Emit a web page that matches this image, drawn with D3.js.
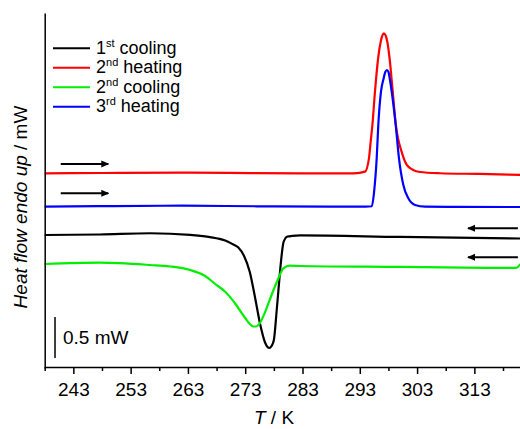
<!DOCTYPE html>
<html>
<head>
<meta charset="utf-8">
<script src="https://cdn.jsdelivr.net/npm/d3@7"></script>
<style>
  body { margin: 0; background: #fff; }
  svg { display: block; font-family: Arial, 'Liberation Sans', sans-serif; }
</style>
</head>
<body>
<script>
// temperature (K) and heat flow (mW, offset per trace)
const cool1T = [238, 247.65, 256.4, 263.4, 268.0, 269.5, 270.9, 271.8, 272.8, 273.8, 274.7, 275.6, 276.5, 276.9, 277.2, 277.6, 278.0, 278.5, 278.8, 279.2, 279.7, 280.4, 281.2, 282.6, 300, 321];
const cool1Flow = [1.622, 1.628, 1.643, 1.624, 1.582, 1.555, 1.506, 1.47, 1.366, 1.171, 0.866, 0.537, 0.305, 0.256, 0.244, 0.268, 0.341, 0.707, 0.951, 1.268, 1.537, 1.604, 1.61, 1.616, 1.598, 1.579];

const heat2T = [238, 248, 262, 274, 286, 292, 293.9, 294.6, 294.9, 295.2, 295.65, 296.2, 296.65, 296.95, 297.2, 297.5, 297.8, 298.2, 298.75, 299.3, 300.3, 301.2, 302.3, 303.5, 307, 314, 321];
const heat2Flow = [2.374, 2.378, 2.382, 2.376, 2.372, 2.374, 2.394, 2.557, 2.76, 2.963, 3.37, 3.777, 3.979, 4.055, 4.082, 4.055, 3.979, 3.777, 3.37, 2.963, 2.638, 2.476, 2.415, 2.39, 2.375, 2.366, 2.354];

const cool2T = [238, 247.65, 256.4, 259.9, 263.4, 265.7, 268.0, 269.5, 270.3, 271.2, 273.0, 273.8, 274.4, 274.9, 275.3, 276.5, 277.6, 278.8, 279.65, 280.8, 282.6, 300, 315, 320.3, 321];
const cool2Flow = [1.268, 1.284, 1.256, 1.238, 1.195, 1.134, 1.012, 0.93, 0.87, 0.79, 0.61, 0.537, 0.506, 0.506, 0.524, 0.687, 0.89, 1.094, 1.216, 1.248, 1.244, 1.232, 1.222, 1.22, 1.265];

const heat3T = [238, 250, 262, 275, 288, 294, 295.1, 295.5, 295.95, 296.23, 296.7, 297.17, 297.45, 297.75, 298.0, 298.22, 298.57, 299.27, 299.84, 300.6, 301.47, 302.64, 304.4, 310, 321];
const heat3Flow = [1.967, 1.975, 1.979, 1.972, 1.968, 1.967, 1.972, 2.15, 2.557, 2.963, 3.37, 3.533, 3.61, 3.634, 3.61, 3.533, 3.37, 2.963, 2.557, 2.232, 2.07, 1.988, 1.967, 1.965, 1.963];

const legendNums = ['1', '2', '2', '3'];
const legendSups = ['st', 'nd', 'nd', 'rd'];
const legendWords = ['cooling', 'heating', 'cooling', 'heating'];
const seriesColors = ['#000000', '#ff0000', '#00ee00', '#0000ff'];

const majorTicks = [243, 253, 263, 273, 283, 293, 303, 313];
const minorTicks = [238, 248, 258, 268, 278, 288, 298, 308, 318];

// arrows: [T start, T end, flow]
const arrowsData = [[240.8, 249.1, 2.488], [240.8, 249.1, 2.13], [320.6, 311.9, 1.704], [320.6, 311.9, 1.35]];

const width = 520, height = 429;

const x = d3.scaleLinear().domain([238, 321]).range([44.7, 520.2]);
const y = d3.scaleLinear().domain([0, 4.33]).range([368, 12.9]);

const svg = d3.select('body').append('svg')
    .attr('width', width)
    .attr('height', height);

svg.append('defs').append('marker')
    .attr('id', 'head')
    .attr('markerUnits', 'userSpaceOnUse')
    .attr('viewBox', '0 -4 8 8')
    .attr('refX', 7)
    .attr('refY', 0)
    .attr('markerWidth', 8)
    .attr('markerHeight', 8)
    .attr('orient', 'auto')
    .append('path')
    .attr('d', 'M0,-3.5L8,0L0,3.5Z')
    .attr('fill', '#000');

//curves
const line = d3.line()
    .x(d => x(d[0]))
    .y(d => y(d[1]))
    .curve(d3.curveMonotoneX);

const series = [
    d3.zip(cool1T, cool1Flow),
    d3.zip(heat2T, heat2Flow),
    d3.zip(cool2T, cool2Flow),
    d3.zip(heat3T, heat3Flow)
];

svg.append('g')
    .selectAll('path')
    .data(series)
    .enter()
    .append('path')
    .attr('d', line)
    .attr('fill', 'none')
    .attr('stroke', (d, i) => seriesColors[i])
    .attr('stroke-width', 2.2)
    .attr('stroke-linejoin', 'round');

//axes
const xAxis = d3.axisBottom(x)
    .tickValues(majorTicks)
    .tickSize(7)
    .tickSizeOuter(0)
    .tickFormat(d3.format('d'));

const gx = svg.append('g')
    .attr('transform', 'translate(0, 367)')
    .call(xAxis);
gx.select('.domain').attr('stroke-width', 1.5);
gx.selectAll('.tick line').attr('stroke-width', 1.5);
gx.selectAll('.tick text')
    .attr('y', 16)
    .attr('font-size', 19)
    .attr('font-family', null);

const gMinor = svg.append('g')
    .attr('transform', 'translate(0, 367)')
    .call(d3.axisBottom(x).tickValues(minorTicks).tickSize(4).tickFormat(''));
gMinor.select('.domain').remove();
gMinor.selectAll('.tick line').attr('stroke-width', 1.5);

const gy = svg.append('g')
    .attr('transform', `translate(${x(238)}, 0)`)
    .call(d3.axisLeft(y).tickValues([]).tickSizeOuter(0));
gy.select('.domain').attr('stroke-width', 1.5);

//axis titles
const xTitle = svg.append('text')
    .attr('x', 274)
    .attr('y', 424)
    .attr('text-anchor', 'middle')
    .attr('font-size', 19);
xTitle.append('tspan').attr('font-style', 'italic').text('T');
xTitle.append('tspan').text(' / K');

const yTitle = svg.append('text')
    .attr('transform', 'translate(27, 207) rotate(-90)')
    .attr('text-anchor', 'middle')
    .attr('font-size', 19);
yTitle.append('tspan').attr('font-style', 'italic').text('Heat flow endo up');
yTitle.append('tspan').text(' / mW');

//arrows
svg.append('g')
    .selectAll('line')
    .data(arrowsData)
    .enter()
    .append('line')
    .attr('x1', d => x(d[0]))
    .attr('x2', d => x(d[1]))
    .attr('y1', d => y(d[2]))
    .attr('y2', d => y(d[2]))
    .attr('stroke', '#000')
    .attr('stroke-width', 2)
    .attr('marker-end', 'url(#head)');

//scale bar
svg.append('line')
    .attr('x1', x(239.8))
    .attr('x2', x(239.8))
    .attr('y1', y(0.122))
    .attr('y2', y(0.622))
    .attr('stroke', '#000')
    .attr('stroke-width', 1.5);
svg.append('text')
    .attr('x', 63)
    .attr('y', 344)
    .attr('font-size', 19)
    .text('0.5 mW');

//legend
const legend = svg.append('g')
    .selectAll('g')
    .data(legendWords)
    .enter()
    .append('g')
    .attr('transform', (d, i) => `translate(53, ${48.3 + i * 19.5})`);

legend.append('line')
    .attr('x1', 0)
    .attr('x2', 37)
    .attr('stroke', (d, i) => seriesColors[i])
    .attr('stroke-width', 2);

const lt = legend.append('text')
    .attr('x', 43)
    .attr('y', 5.5)
    .attr('font-size', 18);
lt.append('tspan').text((d, i) => legendNums[i]);
lt.append('tspan')
    .attr('font-size', 11)
    .attr('dy', -7)
    .text((d, i) => legendSups[i]);
lt.append('tspan')
    .attr('dy', 7)
    .text(d => ' ' + d);
</script>
</body>
</html>
